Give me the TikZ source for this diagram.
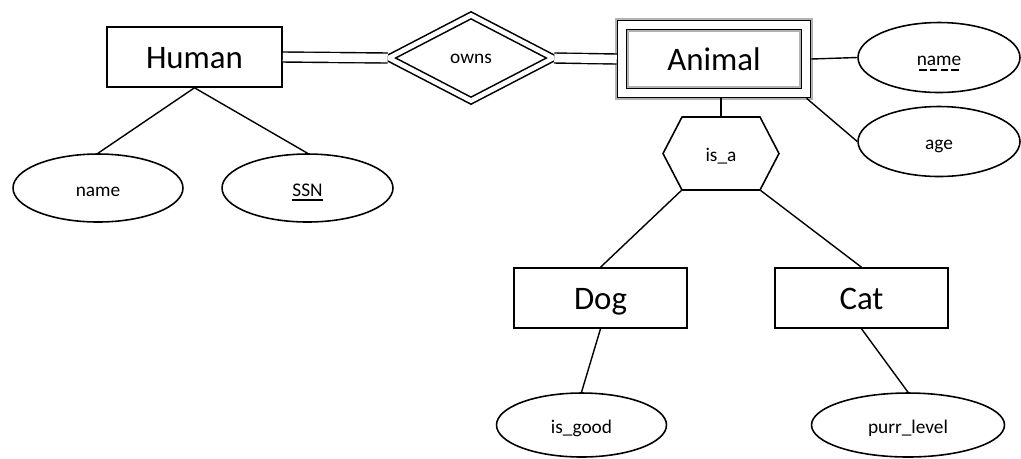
\documentclass[tikz,border=0pt]{standalone}
\usepackage{fontspec}
\setmainfont{Carlito}
\usepackage{tikz}
\usetikzlibrary{shapes, shapes.geometric, shapes.symbols, positioning, calc}
% key underlines (solid and dashed)
\newcommand{\keyul}[1]{\setbox0\hbox{#1}\rlap{\raisebox{-2.6pt}{\rule{\wd0}{1pt}}}\box0}
\newcommand{\partkeyul}[1]{\setbox0\hbox{#1}\rlap{\raisebox{-2.8pt}{\hbox to \wd0{\cleaders\hbox{\hspace{0.9pt}\rule{4.4pt}{1.2pt}\hspace{0.9pt}}\hfill}}}\box0}
\tikzset{
	entity/.style={rectangle, draw, line width=0.9pt, inner sep=0pt, text height=15pt, text depth=2.4pt,
		font=\fontsize{18.7}{20}\selectfont},
	weak/.style={entity, line width=0.6pt, double=white, double distance=4.5pt, outer sep=3pt,
		preaction={draw=gray!60, line width=7.6pt}},
	small/.style={inner sep=0pt, text height=11pt, text depth=1.4pt, font=\fontsize{11}{13}\selectfont},
	relation/.style={diamond, draw, line width=0.9pt, double=white, double distance=2.6pt, inner sep=0pt,
		text height=8.5pt, text depth=2.8pt, font=\fontsize{11}{13}\selectfont},
	attr/.style={ellipse, draw, line width=0.9pt, small},
	isa/.style={signal, signal to=west and east, signal pointer angle=125, draw, line width=0.9pt, small},
	line/.style={draw, line width=0.8pt},
	total/.style={draw, line width=0.8pt, double=white, double distance=4.9pt}
}

\begin{document}
\begin{tikzpicture}[x=0.02cm,y=-0.02cm]
			\useasboundingbox (0,0) rectangle (1021,458);
			% Entities
			\node[entity, minimum width=3.5cm, minimum height=1.2cm] (Human) at (194.5,57) {Human};
			\node[weak, minimum width=3.68cm, minimum height=1.36cm] (Animal) at (714,59) {Animal};
			\node[entity, minimum width=3.46cm, minimum height=1.2cm] (Dog) at (600.5,298) {Dog};
			\node[entity, minimum width=3.46cm, minimum height=1.2cm] (Cat) at (861.5,298) {Cat};
			
			% Relationship and ISA
			\node[relation, minimum width=3.3cm, minimum height=1.72cm] (owns) at (471,58) {owns};
			\node[isa, minimum width=2.32cm, minimum height=1.46cm] (isa) at (721,153.5) {is\_a};
			
			% Attributes
			\node[attr, minimum width=3.4cm, minimum height=1.36cm] (H-name) at (98,188) {name};
			\node[attr, minimum width=3.42cm, minimum height=1.36cm] (H-ssn) at (307.5,188) {\keyul{SSN}};
			\node[attr, minimum width=3.24cm, minimum height=1.4cm] (A-name) at (939,57.5) {\partkeyul{name}};
			\node[attr, minimum width=3.24cm, minimum height=1.4cm] (A-age) at (939,141.5) {age};
			\node[attr, minimum width=3.4cm, minimum height=1.28cm] (D-good) at (581.5,425) {is\_good};
			\node[attr, minimum width=3.86cm, minimum height=1.28cm] (C-purr) at (908,425) {purr\_level};
			
			% Connections
			\draw[total] (Human.east) -- (owns.west);
			\draw[total] (owns.east) -- (Animal.west);
			\foreach \a in {H-name,H-ssn}
			\draw[line] (Human.south) -- (\a.north);
			\draw[line] (Animal.east) -- (A-name.west);
			\draw[line] (Animal.-23) -- (A-age.west);
			\draw[line] (isa.north) -- (isa.north |- Animal.south);
			\draw[line] (isa.-137) -- (Dog.north);
			\draw[line] (isa.-43) -- (Cat.north);
			\draw[line] (Dog.south) -- (D-good.north);
			\draw[line] (Cat.south) -- (C-purr.north);
		\end{tikzpicture}
\end{document}
